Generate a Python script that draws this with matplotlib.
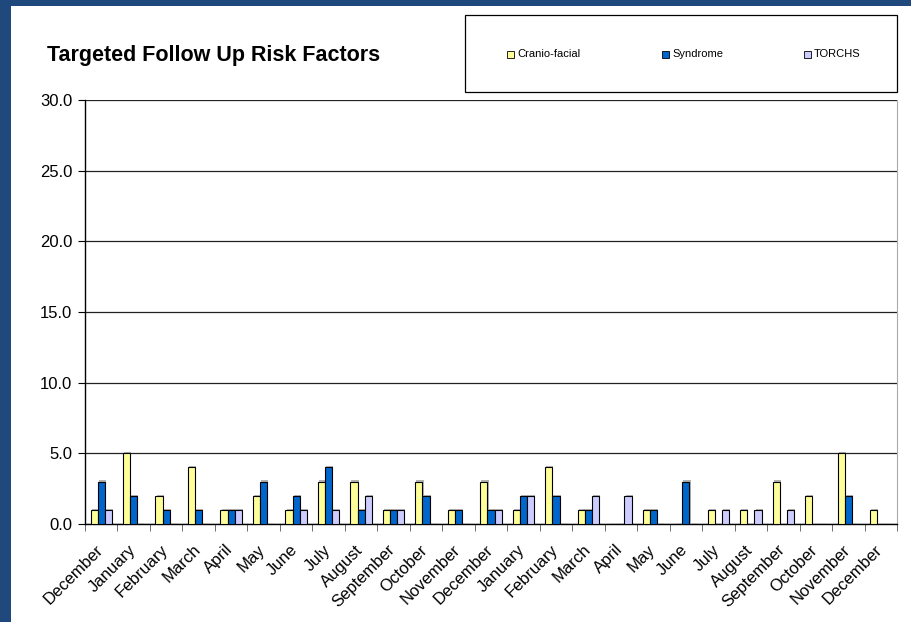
import numpy as np
import matplotlib.pyplot as plt
import matplotlib.patches as mpatches
import matplotlib.patheffects as pe

plt.rcParams['font.family'] = ['Liberation Sans', 'DejaVu Sans']

months = ['December', 'January', 'February', 'March', 'April', 'May', 'June',
          'July', 'August', 'September', 'October', 'November', 'December',
          'January', 'February', 'March', 'April', 'May', 'June', 'July',
          'August', 'September', 'October', 'November', 'December']

cranio_facial = [1, 5, 2, 4, 1, 2, 1, 3, 3, 1, 3, 1, 3, 1, 4, 1, 0, 1, 0, 1, 1, 3, 2, 5, 1]
syndrome      = [3, 2, 1, 1, 1, 3, 2, 4, 1, 1, 2, 1, 1, 2, 2, 1, 0, 1, 3, 0, 0, 0, 0, 2, 0]
torchs        = [1, 0, 0, 0, 1, 0, 1, 1, 2, 1, 0, 0, 1, 2, 0, 2, 2, 0, 0, 1, 1, 1, 0, 0, 0]

series = [('Cranio-facial', cranio_facial, '#FFFF99'),
          ('Syndrome', syndrome, '#0066CC'),
          ('TORCHS', torchs, '#CCCCFF')]

W, H = 912, 622
fig = plt.figure(figsize=(W / 100, H / 100), dpi=100)
fig.patch.set_facecolor('white')

# dark blue frame on the left and top
fig.add_artist(mpatches.Rectangle((0, 0), 11 / W, 1, transform=fig.transFigure,
                                  facecolor='#1F497D', edgecolor='none'))
fig.add_artist(mpatches.Rectangle((0, 1 - 6 / H), 1, 6 / H, transform=fig.transFigure,
                                  facecolor='#1F497D', edgecolor='none'))

ax = fig.add_axes([85 / W, 1 - 524 / H, (897 - 85) / W, (524 - 100) / H])

x = np.arange(len(months))
bw = 0.22
shadow = [pe.SimplePatchShadow(offset=(0.8, 0.8), shadow_rgbFace='#808080', alpha=0.6), pe.Normal()]
for i, (name, vals, col) in enumerate(series):
    bars = ax.bar(x + (i - 1) * bw, vals, width=bw, color=col, edgecolor='black',
                  linewidth=0.8, label=name, zorder=3)
    for b in bars:
        if b.get_height() > 0:
            b.set_path_effects(shadow)

ax.set_xlim(-0.5, len(months) - 0.5)
ax.set_ylim(0, 30)
ax.set_yticks(np.arange(0, 31, 5))
ax.set_yticklabels([f'{v:.1f}' for v in np.arange(0, 31, 5)], fontsize=12)
ax.yaxis.grid(True, color='#222222', linewidth=0.9, zorder=0)
ax.set_axisbelow(True)

# month labels sit a little left of the group centre, rotated 45 degrees
ax.set_xticks(x - 0.18)
ax.set_xticklabels(months, rotation=45, ha='right', va='top',
                   rotation_mode='anchor', fontsize=12)
ax.set_xticks(np.arange(-0.5, len(months), 1), minor=True)
ax.tick_params(axis='x', which='major', length=0, pad=13)
ax.tick_params(axis='x', which='minor', length=5, color='#555555', direction='out')
ax.tick_params(axis='y', length=5, direction='out', color='black', pad=4)

for s in ['left', 'bottom']:
    ax.spines[s].set_color('black')
    ax.spines[s].set_linewidth(1.0)
ax.spines['top'].set_visible(False)
ax.spines['right'].set_color('#AAAAAA')

fig.text(47 / W, 1 - 55 / H, 'Targeted Follow Up Risk Factors', fontsize=15.5,
         fontweight='bold', va='center', ha='left')

# legend box with three entries
lx0, ly0, lx1, ly1 = 465, 15, 897, 92
fig.add_artist(mpatches.Rectangle((lx0 / W, 1 - ly1 / H), (lx1 - lx0) / W, (ly1 - ly0) / H,
                                  transform=fig.transFigure, facecolor='white',
                                  edgecolor='black', linewidth=0.9))
key_x = [507, 662, 804]
for (name, vals, col), kx in zip(series, key_x):
    fig.add_artist(mpatches.Rectangle((kx / W, 1 - 57.5 / H), 7 / W, 7 / H,
                                      transform=fig.transFigure, facecolor=col,
                                      edgecolor='black', linewidth=0.6))
    fig.text((kx + 10) / W, 1 - 54 / H, name, fontsize=8, va='center', ha='left')

fig.savefig('out.png', dpi=100)
